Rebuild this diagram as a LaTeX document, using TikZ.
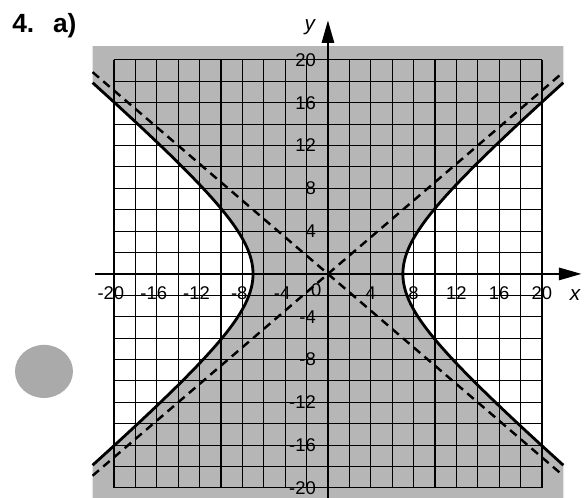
\documentclass[tikz,border=0pt]{standalone}
\usepackage{fontspec}
\setmainfont{Liberation Sans}
\usetikzlibrary{arrows.meta, positioning, calc}
\definecolor{hypgray}{RGB}{182, 182, 182}
\definecolor{holegray}{RGB}{170, 170, 170}

\begin{document}
\begin{tikzpicture}[x=0.2cm, y=0.2cm,
          gridline/.style={line width=0.6pt},
          axis/.style={line width=1.1pt,
                       -{Triangle[length=12pt, width=6.5pt]}},
          branch/.style={line width=1.5pt},
          asym/.style={line width=1.3pt,
                       dash pattern=on 4.5pt off 3pt},
          tick/.style={font=\fontsize{9.8}{11}\selectfont,
                       inner sep=0pt},
      ]
      \useasboundingbox (-30.65,-20.93) rectangle (23.93,25.6);

      % shaded region between the two branches
      \fill[hypgray] (-22,21.3) -- (22,21.3) -- (22,17.88)
          -- plot[domain=1.8119:-1.8119, samples=60, variable=\t]
             ({7*cosh(\t)},{6*sinh(\t)})
          -- (22,-20.93) -- (-22,-20.93) -- (-22,-17.88)
          -- plot[domain=-1.8119:1.8119, samples=60, variable=\t]
             ({-7*cosh(\t)},{6*sinh(\t)})
          -- cycle;

      % grid
      \foreach \k in {-20,-18,...,20} {
          \draw[gridline] (\k,-20) -- (\k,20);
          \draw[gridline] (-20,\k) -- (20,\k);
      }

      % hyperbola branches
      \draw[branch] plot[domain=-1.8119:1.8119, samples=60, variable=\t]
          ({7*cosh(\t)},{6*sinh(\t)});
      \draw[branch] plot[domain=-1.8119:1.8119, samples=60, variable=\t]
          ({-7*cosh(\t)},{6*sinh(\t)});

      % asymptotes
      \coordinate (a1) at (-22,18.86);
      \coordinate (a2) at (22,-18.86);
      \coordinate (a3) at (-22,-18.86);
      \coordinate (a4) at (22,18.86);
      \draw[asym] (a1) -- (a2);
      \draw[asym] (a3) -- (a4);

      % axes
      \coordinate (xl) at (-21.8,0);
      \coordinate (xr) at (23.7,0);
      \coordinate (yb) at (0,-21);
      \coordinate (yt) at (0,23.7);
      \draw[axis] (xl) -- (xr);
      \draw[axis] (yb) -- (yt);
      \node[font=\fontsize{11}{12}\selectfont\itshape] (xlab)
          at (23.1,-2.0) {x};
      \node[font=\fontsize{11}{12}\selectfont\itshape] (ylab)
          at (-1.7,23.1) {y};

      % tick labels
      \foreach \v in {4,8,...,20} {
          \node[tick] (xp\v) at (\v,-1.8) {\v};
          \node[tick] (xm\v) at (-\v,-1.8) {\llap{-}\v};
          \node[tick, anchor=east] (yp\v) at (-1.1,\v) {\v};
          \node[tick, anchor=east] (ym\v) at (-1.1,-\v) {-\v};
      }
      \node[tick] (orig) at (-1.1,-1.5) {0};

      % punch hole
      \fill[holegray] (-26.54,-9.11) ellipse [x radius=2.71, y radius=2.48];

      \node[font=\fontsize{14}{16}\selectfont\bfseries,
            anchor=base west, inner sep=0pt] (title)
          at (-29.53,22.6) {4.\hspace{10pt}a)};
      \end{tikzpicture}
\end{document}
